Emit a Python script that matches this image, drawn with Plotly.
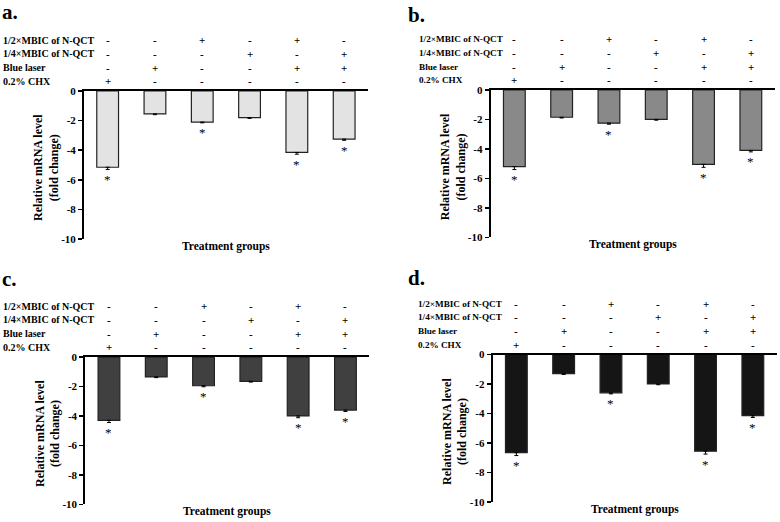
import plotly.graph_objects as go

# ---------------- data ----------------
groups = ["0.2% CHX", "Blue laser", "1/2×MBIC", "1/4×MBIC", "1/2×MBIC+laser", "1/4×MBIC+laser"]
row_labels = ["1/2×MBIC of N-QCT", "1/4×MBIC of N-QCT", "Blue laser", "0.2% CHX"]
row_signs = [
    ["-", "-", "+", "-", "+", "-"],
    ["-", "-", "-", "+", "-", "+"],
    ["-", "+", "-", "-", "+", "+"],
    ["+", "-", "-", "-", "-", "-"],
]
ytick_vals = [0, -2, -4, -6, -8, -10]
ytick_text = ["0", "-2", "-4", "-6", "-8", "-10"]
panel_letters = ["a.", "b.", "c.", "d."]
y_title = "Relative mRNA level<br>(fold change)"
x_title = "Treatment groups"

vals_a = [-5.15, -1.55, -2.10, -1.80, -4.15, -3.25]
err_a = [0.15, 0.05, 0.05, 0.05, 0.12, 0.08]
vals_b = [-5.20, -1.85, -2.25, -2.00, -5.05, -4.10]
err_b = [0.20, 0.05, 0.07, 0.05, 0.20, 0.10]
vals_c = [-4.30, -1.35, -1.95, -1.65, -4.00, -3.60]
err_c = [0.15, 0.05, 0.07, 0.05, 0.12, 0.10]
vals_d = [-6.65, -1.30, -2.60, -2.00, -6.55, -4.15]
err_d = [0.20, 0.05, 0.07, 0.05, 0.20, 0.12]
significant = [1, 0, 1, 0, 1, 1]

colors = ["#e3e3e3", "#898989", "#404040", "#151515"]

# ---------------- layout geometry (pixels) ----------------
W, H = 780, 522
FONT = "Liberation Serif"
CAT = 47.3

panels = [
    dict(vals=vals_a, err=err_a, x0=84.0, y0=87.0, y1=238.5, lab_x=1, lab_fs=10, let_x=0, let_y=6),
    dict(vals=vals_b, err=err_b, x0=490.7, y0=86.0, y1=236.7, lab_x=417, lab_fs=9.2, let_x=406, let_y=9),
    dict(vals=vals_c, err=err_c, x0=85.3, y0=359.3, y1=510.0, lab_x=1, lab_fs=10, let_x=0, let_y=279),
    dict(vals=vals_d, err=err_d, x0=492.7, y0=356.7, y1=507.7, lab_x=416, lab_fs=9.2, let_x=406, let_y=278),
]
row_offsets = [-52, -38, -24, -10]


def px(xp):
    return xp / W


def py(yp):
    return 1 - yp / H


fig = go.Figure()
annotations = []

for i, p in enumerate(panels):
    n = "" if i == 0 else str(i + 1)
    xa, ya = "x" + n, "y" + n
    x1 = p["x0"] + CAT * 6

    fig.add_trace(go.Bar(
        x=groups, y=p["vals"], width=0.46,
        marker=dict(color=colors[i], line=dict(color="#222222", width=1.2)),
        error_y=dict(type="data", symmetric=False, array=[0] * 6, arrayminus=p["err"],
                     color="black", thickness=1, width=2),
        xaxis=xa, yaxis=ya, showlegend=False, hoverinfo="skip",
    ))
    for g, v, e, s in zip(groups, p["vals"], p["err"], significant):
        if s:
            annotations.append(dict(text="*", x=g, y=v - e, xref=xa, yref=ya,
                                    xanchor="center", yanchor="middle", yshift=-10,
                                    showarrow=False,
                                    font=dict(family=FONT, size=13, color="black")))

    fig.update_layout({
        "xaxis" + n: dict(domain=[px(p["x0"]), px(x1)], range=[-0.5, 5.5], anchor=ya,
                          side="top", showline=True, linecolor="black", linewidth=2,
                          showticklabels=False, ticks="", showgrid=False, zeroline=False,
                          fixedrange=True),
        "yaxis" + n: dict(domain=[py(p["y1"]), py(p["y0"])], range=[-10, 0], anchor=xa,
                          showline=True, linecolor="black", linewidth=2, ticks="outside",
                          ticklen=4, tickwidth=1.5, tickcolor="black",
                          tickvals=ytick_vals, ticktext=ytick_text,
                          tickfont=dict(family=FONT, size=11, color="black", weight="bold"),
                          showgrid=False, zeroline=False, fixedrange=True),
    })

    # panel letter
    annotations.append(dict(text=panel_letters[i], x=px(p["let_x"]), y=py(p["let_y"]),
                            xref="paper", yref="paper", xanchor="left", yanchor="middle",
                            showarrow=False,
                            font=dict(family=FONT, size=21, color="black", weight="bold")))
    # treatment rows
    for r, lab in enumerate(row_labels):
        yy = py(p["y0"] + row_offsets[r])
        annotations.append(dict(text=lab, x=px(p["lab_x"]), y=yy, xref="paper", yref="paper",
                                xanchor="left", yanchor="middle", showarrow=False,
                                font=dict(family=FONT, size=p["lab_fs"], color="black",
                                          weight="bold")))
        for g, s in zip(groups, row_signs[r]):
            annotations.append(dict(text=s, x=g, y=yy, xref=xa, yref="paper",
                                    xanchor="center", yanchor="middle", showarrow=False,
                                    font=dict(family=FONT, size=11, color="black", weight="bold")))
    # axis titles
    annotations.append(dict(text=y_title, x=px(p["x0"] - 38), y=py((p["y0"] + p["y1"]) / 2 + 3),
                            xref="paper", yref="paper", xanchor="center", yanchor="middle",
                            textangle=-90, showarrow=False,
                            font=dict(family=FONT, size=12, color="black", weight="bold")))
    annotations.append(dict(text=x_title, x=px((p["x0"] + x1) / 2), y=py(p["y1"] + 7.5),
                            xref="paper", yref="paper", xanchor="center", yanchor="middle",
                            showarrow=False,
                            font=dict(family=FONT, size=11.5, color="black", weight="bold")))

fig.update_layout(
    width=W, height=H, margin=dict(l=0, r=0, t=0, b=0),
    paper_bgcolor="white", plot_bgcolor="white",
    annotations=annotations, showlegend=False,
)

fig.write_html(
    "out.html",
    config={"displayModeBar": False, "staticPlot": True},
    post_script="document.body.style.margin='0px';document.body.style.overflow='hidden';",
)
